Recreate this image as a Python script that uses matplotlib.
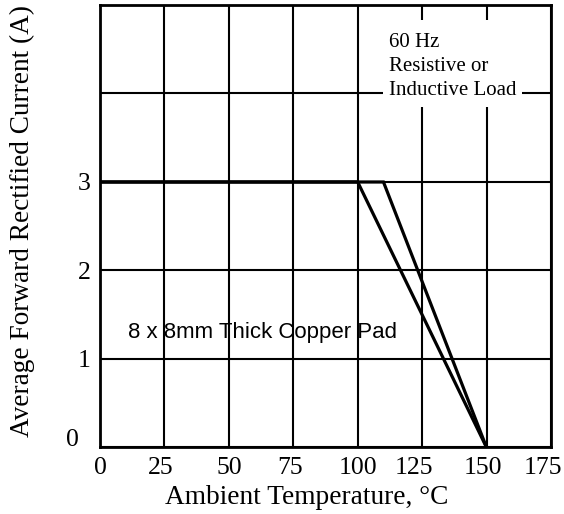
import matplotlib.pyplot as plt
import matplotlib.transforms as mtransforms
from matplotlib.patches import Rectangle

plt.rcParams['font.family'] = ['Liberation Serif', 'DejaVu Serif']

# Curvas de derating (temperatura, corriente)
temp_a = [0, 100, 150]
corr_a = [3, 3, 0]
temp_b = [0, 110, 150]
corr_b = [3, 3, 0]

x_ticks = [0, 25, 50, 75, 100, 125, 150, 175]
y_grid = [0, 1, 2, 3, 4, 5]
y_labels = ['0', '1', '2', '3', '', '']

nota = ['60 Hz', 'Resistive or', 'Inductive Load']

fig = plt.figure(figsize=(5.64, 5.14), dpi=100)
ax = fig.add_axes([0.1773, 0.1294, 0.7996, 0.8609])

ax.plot(temp_a, corr_a, color='black', lw=2.3, solid_joinstyle='miter', zorder=3)
ax.plot(temp_b, corr_b, color='black', lw=2.3, solid_joinstyle='miter', zorder=3)

ax.set_xlim(0, 175)
ax.set_ylim(0, 5)
ax.set_xticks(x_ticks)
ax.set_yticks(y_grid)
ax.set_yticklabels(y_labels)
ax.grid(True, color='black', lw=1.5)
ax.tick_params(length=0, labelsize=18.5, pad=7)
for s in ax.spines.values():
    s.set_linewidth(2)

# Ajustes finos de etiquetas (en pixeles)
desp = lambda dx, dy: mtransforms.ScaledTranslation(dx / 100, dy / 100, fig.dpi_scale_trans)
lbl0 = ax.get_yticklabels()[0]
lbl0.set_transform(lbl0.get_transform() + desp(-11, 10))
corr_x = [0, -4, 0, -3, 0, -8, -4, -8]
for lbl, dx in zip(ax.get_xticklabels(), corr_x):
    lbl.set_transform(lbl.get_transform() + desp(dx, 0))

ax.set_xlabel('Ambient Temperature, °C', fontsize=19.7)
ax.xaxis.set_label_coords(0.458, -0.085)
ax.set_ylabel('Average Forward Rectified Current (A)', fontsize=19.6)
ax.yaxis.set_label_coords(-0.145, 0.512)

# Cuadro de texto superior (tapa la grilla)
ax.add_patch(Rectangle((109.8, 3.85), 54.1, 0.98, facecolor='white',
                       edgecolor='none', zorder=2.5))
for i, linea in enumerate(nota):
    ax.text(112.0, 4.529 - i * 0.273, linea, fontsize=15,
            va='baseline', ha='left', zorder=4)

ax.text(10.7, 1.3, '8 x 8mm Thick Copper Pad', fontsize=16,
        family=['Liberation Sans', 'DejaVu Sans'], va='center', ha='left', zorder=4)

fig.savefig('out.png', dpi=100)
